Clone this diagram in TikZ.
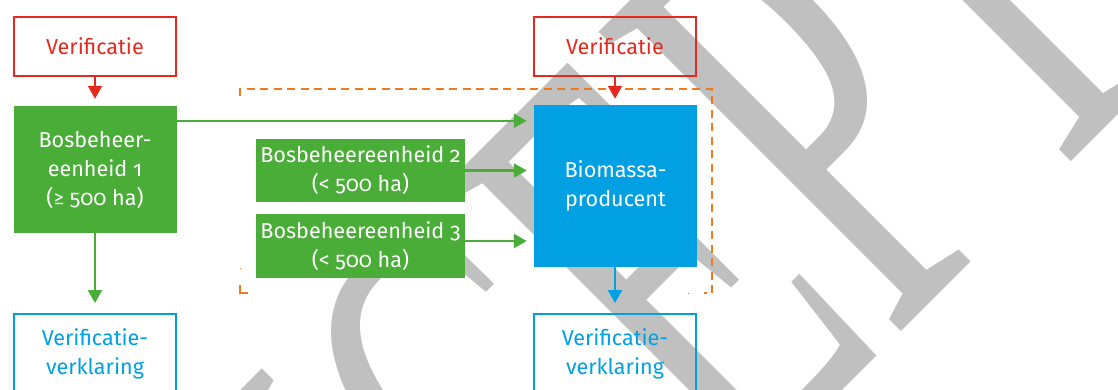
\documentclass[tikz,border=0pt]{standalone}
\usepackage{fontspec}
\setmainfont{Fira Sans}[Numbers=OldStyle]
\newfontfamily\symfont{Carlito}
\newfontfamily\wmfont{Liberation Serif}
\usetikzlibrary{arrows.meta,calc}
\definecolor{vred}{HTML}{E42A1E}
\definecolor{vgreen}{HTML}{4AAD38}
\definecolor{vblue}{HTML}{00A0E2}
\definecolor{vorange}{HTML}{EE7A1E}
\definecolor{wmgray}{HTML}{C0C0C0}
\tikzset{
  verbox/.style={draw=vred, line width=2pt, text=vred, minimum width=162pt, minimum height=59pt, inner sep=0pt},
  greenbox/.style={fill=vgreen, text=white, inner sep=0pt, align=center},
  outbox/.style={draw=vblue, line width=2pt, text=vblue, minimum width=162pt, minimum height=80pt, inner sep=0pt, align=center},
  arr/.style={line width=2.4pt, -{Triangle[length=13pt,width=14pt]}},
  orangedash/.style={draw=vorange, line width=2pt},
}
\begin{document}
\begin{tikzpicture}[x=1pt,y=-1pt,font=\fontsize{21.6}{29}\selectfont]
\useasboundingbox (0,0) rectangle (1118,389);
\clip (0,0) rectangle (1118,389);
% watermark
\node[rotate=45, xscale=0.55, anchor=base west, inner sep=0pt, text=wmgray, font=\wmfont\fontsize{650}{650}\selectfont] (wm) at (35.5,1197.5) {CONCEPT};
% verification boxes
\node[verbox] (v1) at (95,46.5) {Verificatie};
\node[verbox] (v2) at (615,46.5) {Verificatie};
% green boxes
\node[greenbox, minimum width=163pt, minimum height=127pt] (g1) at (95,169.5) {Bosbeheer-\\eenheid 1\\({\symfont ≥} 500 ha)};
\node[greenbox, minimum width=209pt, minimum height=63pt] (g2) at (360.5,170.5) {Bosbeheereenheid 2\\(< 500 ha)};
\node[greenbox, minimum width=209pt, minimum height=64pt] (g3) at (360.5,246) {Bosbeheereenheid 3\\(< 500 ha)};
% biomass box
\node[fill=vblue, text=white, inner sep=0pt, align=center, minimum width=163pt, minimum height=162pt] (bio) at (615.5,186) {Biomassa-\\producent};
% output boxes
\node[outbox] (o1) at (95,354) {Verificatie-\\verklaring};
\node[outbox] (o2) at (615,354) {Verificatie-\\verklaring};
% dashed frame
\coordinate (fa) at (240,96);
\coordinate (fb) at (240,89);
\coordinate (fc) at (712,89);
\coordinate (fd) at (712,293);
\coordinate (fe) at (704,293);
\draw[orangedash, dash pattern=on 8pt off 5.5pt] (fa) -- (fb) -- (fc) -- (fd) -- (fe);
\coordinate (fg) at (240,285);
\coordinate (fh) at (240,293);
\coordinate (fi) at (248,293);
\draw[orangedash] (fg) -- (fh) -- (fi);
\coordinate (dA1) at (240,267.5);
\coordinate (dA2) at (240,269);
\coordinate (dB1) at (687.5,293);
\coordinate (dB2) at (689,293);
\draw[orangedash, line width=1pt] (dA1) -- (dA2);
\draw[orangedash, line width=1pt] (dB1) -- (dB2);
% arrows
\draw[arr, draw=vred, fill=vred, shorten >=7pt] (v1.south) -- (g1.north);
\draw[arr, draw=vred, fill=vred, shorten >=6pt] (v2.south) -- (v2.south |- bio.north);
\draw[arr, draw=vgreen, fill=vgreen, shorten >=10pt] (g1.south) -- (o1.north);
\draw[arr, draw=vblue, fill=vblue, shorten >=10pt] (bio.south -| o2.north) -- (o2.north);
\draw[arr, draw=vgreen, fill=vgreen, shorten >=7pt] ($(g1.north east)+(0,15)$) -- ($(bio.north west)+(0,16)$);
\draw[arr, draw=vgreen, fill=vgreen, shorten >=7pt] (g2.east) -- (g2.east -| bio.west);
\draw[arr, draw=vgreen, fill=vgreen, shorten >=7pt] ($(g3.east)+(0,-5)$) -- ($(g3.east -| bio.west)+(0,-5)$);
\end{tikzpicture}
\end{document}
